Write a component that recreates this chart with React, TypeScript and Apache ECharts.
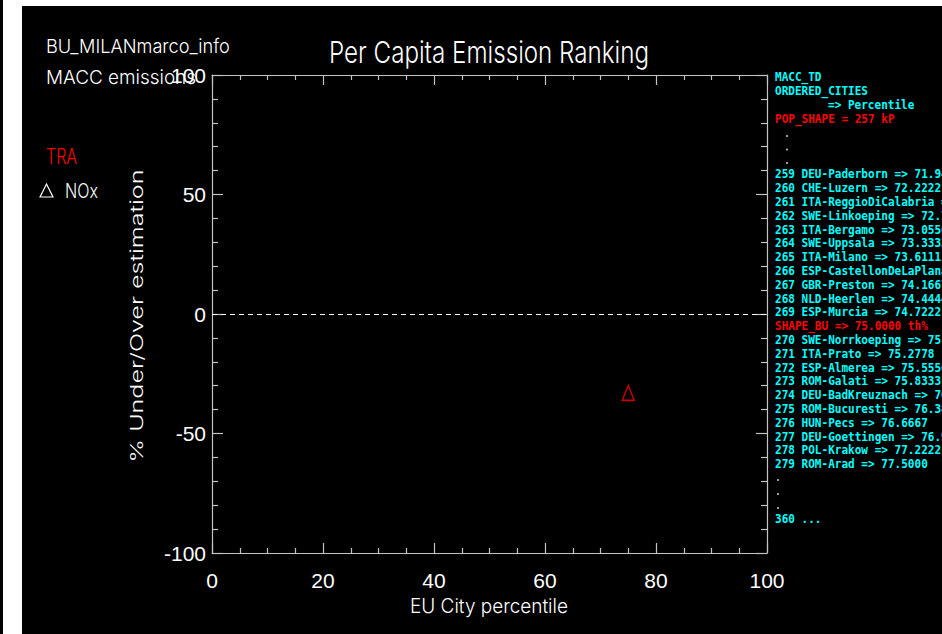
import React, { useEffect, useRef } from "react";
import * as echarts from "echarts";

// ---- data ----
const titleText = "Per Capita Emission Ranking";
const infoLines = ["BU_MILANmarco_info", "MACC emissions"];
const sectorName = "TRA";
const pollutantName = "NOx";
const xAxisName = "EU City percentile";
const yAxisName = "% Under/Over estimation";
const xMin = 0;
const xMax = 100;
const xInterval = 20;
const yMin = -100;
const yMax = 100;
const yInterval = 50;
const pointX = [75];
const pointY = [-33];

const listHeader = ["MACC_TD", "ORDERED_CITIES"];
const listHeaderArrow = "=> Percentile";
const popShape = "POP_SHAPE = 257 kP";
const cityRanks = [259, 260, 261, 262, 263, 264, 265, 266, 267, 268, 269, 270, 271, 272, 273, 274, 275, 276, 277, 278, 279];
const cityNames = [
  "DEU-Paderborn", "CHE-Luzern", "ITA-ReggioDiCalabria", "SWE-Linkoeping", "ITA-Bergamo",
  "SWE-Uppsala", "ITA-Milano", "ESP-CastellonDeLaPlana", "GBR-Preston", "NLD-Heerlen",
  "ESP-Murcia", "SWE-Norrkoeping", "ITA-Prato", "ESP-Almerea", "ROM-Galati",
  "DEU-BadKreuznach", "ROM-Bucuresti", "HUN-Pecs", "DEU-Goettingen", "POL-Krakow", "ROM-Arad",
];
const cityPercentiles = [
  "71.9444", "72.2222", "72.5000", "72.7778", "73.0556", "73.3333", "73.6111", "73.8889",
  "74.1667", "74.4444", "74.7222", "75.0000", "75.2778", "75.5556", "75.8333", "76.1111",
  "76.3889", "76.6667", "76.9444", "77.2222", "77.5000",
];
const shapeLine = "SHAPE_BU => 75.0000 th%";
const shapeAfterRank = 269;
const lastLine = "360 ...";

// ---- styling ----
const WFONT = "Inter, 'Liberation Sans', sans-serif";
const WWEIGHT = 300;
const AXFONT = "'Liberation Sans Narrow', 'Liberation Sans', sans-serif";
const MONO = "'DejaVu Sans Mono', monospace";
const CYAN = "#00ffff";
const RED = "#ff0000";
const AXIS_GREY = "#c4c4c4";

let measureCtx: CanvasRenderingContext2D | null = null;
function textWidth(text: string, size: number, family: string, weight: number | string) {
  if (!measureCtx) measureCtx = document.createElement("canvas").getContext("2d");
  measureCtx!.font = `${weight} ${size}px ${family}`;
  return measureCtx!.measureText(text).width;
}

function fitText(text: string, x: number, y: number, w: number, size: number, fill: string, align = "left", extra: any = {}) {
  const m = textWidth(text, size, WFONT, WWEIGHT);
  return {
    type: "text",
    x,
    y,
    scaleX: w / m,
    ...extra,
    style: { text, fill, fontSize: size, fontFamily: WFONT, fontWeight: WWEIGHT, align, verticalAlign: "middle" },
  };
}

function monoText(text: string, x: number, y: number, fill: string) {
  const size = 13;
  const m = textWidth("0", size, MONO, "bold");
  return {
    type: "text",
    x,
    y,
    scaleX: 6.65 / m,
    style: { text, fill, fontSize: size, fontFamily: MONO, fontWeight: "bold", align: "left", verticalAlign: "middle" },
  };
}

export default function App() {
  const ref = useRef<HTMLDivElement>(null);

  useEffect(() => {
    if (!ref.current) return;
    const chart = echarts.init(ref.current, undefined, { renderer: "svg" });

    const graphics: any[] = [];
    // frame around the black canvas
    graphics.push({ type: "rect", shape: { x: 0, y: 0, width: 22, height: 634 }, style: { fill: "#ffffff" } });
    graphics.push({ type: "rect", shape: { x: 0, y: 0, width: 942, height: 6 }, style: { fill: "#ffffff" } });
    graphics.push({ type: "rect", shape: { x: 0, y: 0, width: 3, height: 634 }, style: { fill: "#000000" } });

    graphics.push(fitText(titleText, 489, 52.5, 320, 30, "#ffffff", "center"));
    graphics.push(fitText(infoLines[0], 46, 46, 184, 19, "#ffffff"));
    graphics.push(fitText(infoLines[1], 46, 77, 150, 19, "#ffffff"));
    graphics.push(fitText(sectorName, 46, 156, 31, 21, RED));
    graphics.push({
      type: "polygon",
      shape: { points: [[40, 197], [46.5, 184], [53, 197]] },
      style: { fill: "none", stroke: "#ffffff", lineWidth: 1.2 },
    });
    graphics.push(fitText(pollutantName, 65, 190.5, 33, 20, "#ffffff"));
    graphics.push(fitText(yAxisName, 137, 316, 293, 17, "#ffffff", "center", { rotation: Math.PI / 2 }));
    graphics.push(fitText(xAxisName, 489, 606, 158, 20, "#ffffff", "center"));

    // right-hand ranking list
    const step = 13.8;
    graphics.push(monoText(listHeader[0], 775, 77, CYAN));
    graphics.push(monoText(listHeader[1], 775, 77 + step, CYAN));
    graphics.push(monoText(listHeaderArrow, 828, 77 + 2 * step, CYAN));
    graphics.push(monoText(popShape, 775, 77 + 3 * step, RED));
    [136, 149.5, 163].forEach((yy) =>
      graphics.push({ type: "circle", shape: { cx: 787, cy: yy, r: 1.1 }, style: { fill: "#b0b0b0" } })
    );
    let yy = 174;
    cityRanks.forEach((r, i) => {
      graphics.push(monoText(`${r} ${cityNames[i]} => ${cityPercentiles[i]}`, 775, yy, CYAN));
      yy += step;
      if (r === shapeAfterRank) {
        graphics.push(monoText(shapeLine, 775, yy, RED));
        yy += step;
      }
    });
    [480, 494, 508].forEach((y2) =>
      graphics.push({ type: "circle", shape: { cx: 778, cy: y2, r: 1.1 }, style: { fill: "#b0b0b0" } })
    );
    graphics.push(monoText(lastLine, 775, 518.5, CYAN));

    const axisLineStyle = { color: AXIS_GREY, width: 1.2 };
    const commonX = {
      type: "value",
      min: xMin,
      max: xMax,
      interval: xInterval,
      splitLine: { show: false },
      axisLine: { show: true, onZero: false, lineStyle: axisLineStyle },
      axisTick: { show: true, inside: true, length: 10, lineStyle: axisLineStyle },
      minorTick: { show: true, splitNumber: 4, length: 5, lineStyle: axisLineStyle },
    };
    const commonY = {
      type: "value",
      min: yMin,
      max: yMax,
      interval: yInterval,
      splitLine: { show: false },
      axisLine: { show: true, onZero: false, lineStyle: axisLineStyle },
      axisTick: { show: true, inside: true, length: 11, lineStyle: axisLineStyle },
      minorTick: { show: true, splitNumber: 5, length: 6, lineStyle: axisLineStyle },
    };

    chart.setOption({
      animation: false,
      backgroundColor: "#000000",
      grid: { left: 212, right: 175, top: 75, bottom: 81, containLabel: false },
      xAxis: [
        {
          ...commonX,
          position: "bottom",
          axisLabel: { color: "#ffffff", fontSize: 21, fontFamily: AXFONT, margin: 17 },
        },
        { ...commonX, position: "top", axisLabel: { show: false } },
      ],
      yAxis: [
        {
          ...commonY,
          position: "left",
          axisLabel: { color: "#ffffff", fontSize: 21, fontFamily: AXFONT, margin: 6 },
        },
        { ...commonY, position: "right", axisLabel: { show: false } },
      ],
      series: [
        {
          type: "scatter",
          name: pollutantName,
          xAxisIndex: 0,
          yAxisIndex: 0,
          data: pointX.map((x, i) => [x, pointY[i]]),
          symbol: "triangle",
          symbolSize: [12, 15],
          itemStyle: { color: "rgba(0,0,0,0)", borderColor: RED, borderWidth: 1.5 },
          markLine: {
            silent: true,
            symbol: ["none", "none"],
            label: { show: false },
            lineStyle: { color: "#ffffff", type: [5, 4], width: 1 },
            data: [{ yAxis: 0 }],
          },
        },
      ],
      graphic: graphics,
    });

    return () => chart.dispose();
  }, []);

  return (
    <div
      ref={ref}
      style={{ position: "fixed", left: 0, top: 0, width: 942, height: 634 }}
    />
  );
}
